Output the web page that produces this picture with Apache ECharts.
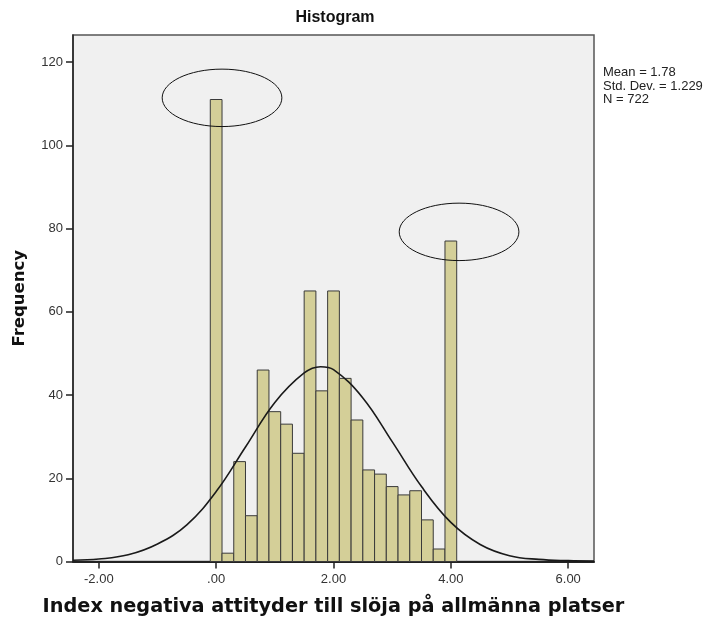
<!DOCTYPE html>
<html>
<head>
<meta charset="utf-8">
<script src="https://cdn.jsdelivr.net/npm/echarts@6/dist/echarts.min.js"></script>
<style>html,body{margin:0;padding:0;background:#fff;}#c{width:711px;height:622px;}</style>
</head>
<body>
<div id="c"></div>
<script>
// ---- data ----
const binCenters = [0.0, 0.2, 0.4, 0.6, 0.8, 1.0, 1.2, 1.4, 1.6, 1.8, 2.0, 2.2, 2.4, 2.6, 2.8, 3.0, 3.2, 3.4, 3.6, 3.8, 4.0];
const frequencies = [111, 2, 24, 11, 46, 36, 33, 26, 65, 41, 65, 44, 34, 22, 21, 18, 16, 17, 10, 3, 77];
const binWidth = 0.2;
const curveX = [-2.44, -2.0, -1.5, -1.0, -0.5, 0.0, 0.5, 1.0, 1.5, 1.78, 2.0, 2.5, 3.0, 3.5, 4.0, 4.5, 5.0, 5.5, 6.0, 6.44];
const curveY = [0.3, 0.6, 1.6, 4.2, 8.8, 16.8, 27.5, 38.2, 45.3, 46.8, 46.1, 39.3, 28.8, 18.0, 9.4, 4.1, 1.4, 0.5, 0.2, 0.1];
const xTicks = [-2, 0, 2, 4, 6];
const yTicks = [0, 20, 40, 60, 80, 100, 120];
const statLines = ['Mean = 1.78', 'Std. Dev. = 1.229', 'N = 722'];
const titleText = 'Histogram';
const xName = 'Index negativa attityder till slöja på allmänna platser';
const yName = 'Frequency';
// annotation ellipses (center x, center y in data units)
const ellipseCX = [0.1, 4.14];
const ellipseCY = [111.4, 79.2];

const FONT = '"Liberation Sans", Arial, sans-serif';
const FONT2 = '"DejaVu Sans", Verdana, sans-serif';
const chart = echarts.init(document.getElementById('c'), null, {renderer: 'canvas'});

const barData = binCenters.map((c, i) => [c, frequencies[i]]);
const curveData = curveX.map((x, i) => [x, curveY[i]]);
const ellData = ellipseCX.map((x, i) => [x, ellipseCY[i]]);

chart.setOption({
  animation: false,
  backgroundColor: '#ffffff',
  title: [
    {text: titleText, left: 335, textAlign: 'center', top: 10, padding: 0,
     textStyle: {fontFamily: FONT, fontSize: 16, fontWeight: 'bold', color: '#111'}},
    {text: statLines.join('\n'), left: 603, top: 66, padding: 0,
     textStyle: {fontFamily: FONT, fontSize: 13, fontWeight: 'normal', color: '#222', lineHeight: 13.5}}
  ],
  grid: {left: 73, right: 117, top: 35, bottom: 60.5, show: true,
         backgroundColor: '#f0f0f0', borderColor: '#555', borderWidth: 1.5,
         outerBoundsMode: 'none', containLabel: false},
  xAxis: {
    type: 'value', min: -2.44, max: 6.44,
    name: xName, nameLocation: 'middle', nameGap: 36,
    nameTextStyle: {fontFamily: FONT2, fontSize: 19.3, fontWeight: 'bold', color: '#111'},
    axisLine: {show: true, onZero: false, lineStyle: {color: '#222', width: 2}},
    axisTick: {show: true, length: 7, customValues: xTicks, lineStyle: {color: '#222', width: 1.5}},
    axisLabel: {customValues: xTicks, margin: 11, fontFamily: FONT, fontSize: 13, color: '#333',
      formatter: v => (v === 0 ? '.00' : v.toFixed(2))},
    splitLine: {show: false}
  },
  yAxis: {
    type: 'value', min: 0, max: 126.5,
    name: yName, nameLocation: 'middle', nameGap: 45, nameRotate: 90,
    nameTextStyle: {fontFamily: FONT2, fontSize: 16.5, fontWeight: 'bold', color: '#111'},
    axisLine: {show: true, onZero: false, lineStyle: {color: '#222', width: 1.5}},
    axisTick: {show: true, length: 7, customValues: yTicks, lineStyle: {color: '#222', width: 1.5}},
    axisLabel: {customValues: yTicks, margin: 10, fontFamily: FONT, fontSize: 13, color: '#333'},
    splitLine: {show: false}
  },
  series: [
    {
      type: 'custom', data: barData, encode: {x: 0, y: 1}, z: 2,
      renderItem: function (params, api) {
        const x = api.value(0), y = api.value(1);
        const p0 = api.coord([x - binWidth / 2, y]);
        const p1 = api.coord([x + binWidth / 2, 0]);
        return {type: 'rect',
          shape: {x: p0[0], y: p0[1], width: p1[0] - p0[0], height: p1[1] - p0[1]},
          style: {fill: '#d4cf98', stroke: '#3a3a3a', lineWidth: 1}};
      }
    },
    {
      type: 'line', data: curveData, smooth: 0.4, symbol: 'none', z: 3,
      lineStyle: {color: '#1a1a1a', width: 1.6}
    },
    {
      type: 'custom', data: ellData, encode: {x: 0, y: 1}, z: 4, silent: true,
      renderItem: function (params, api) {
        const c = api.coord([api.value(0), api.value(1)]);
        const s = api.size([1.02, 6.9]);
        return {type: 'ellipse',
          shape: {cx: c[0], cy: c[1], rx: s[0], ry: s[1]},
          style: {fill: 'none', stroke: '#111', lineWidth: 1}};
      }
    }
  ]
});
</script>
</body>
</html>
